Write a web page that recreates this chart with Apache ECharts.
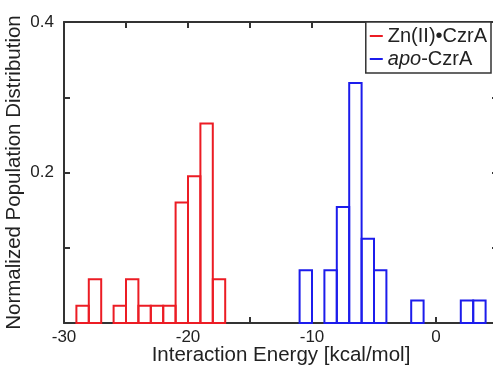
<!DOCTYPE html>
<html>
<head>
<meta charset="utf-8">
<script src="https://cdn.jsdelivr.net/npm/echarts@6/dist/echarts.min.js"></script>
<style>
  html, body { margin: 0; padding: 0; background: #fff; }
  #grafico { width: 493px; height: 366px; }
</style>
</head>
<body>
<div id="grafico"></div>
<script>
// histogram bins: left edge of each 1 kcal/mol bin and its normalized height
const zincBins = [-29, -28, -26, -25, -24, -23, -22, -21, -20, -19, -18];
const zincValues = [0.023, 0.058, 0.023, 0.058, 0.023, 0.023, 0.023, 0.16, 0.195, 0.265, 0.058];
const apoBins = [-11, -9, -8, -7, -6, -5, -2, 2, 3];
const apoValues = [0.07, 0.07, 0.154, 0.319, 0.112, 0.07, 0.03, 0.03, 0.03];
const binWidth = 1;
const xTickLabels = [-30, -20, -10, 0];
const yTickLabels = [0.2, 0.4];

const fonte = 'Liberation Sans, Arial, sans-serif';

function montarDados(bins, valores) {
    return bins.map((b, i) => [b, b + binWidth, valores[i]]);
}

function desenharBarra(params, api) {
    const p0 = api.coord([api.value(0), 0]);
    const p1 = api.coord([api.value(1), api.value(2)]);
    return {
        type: 'rect',
        shape: { x: p0[0], y: p1[1], width: p1[0] - p0[0], height: p0[1] - p1[1] },
        style: { fill: 'none', stroke: api.visual('color'), lineWidth: 2 }
    };
}

function desenharGrafico() {
    const el = document.getElementById('grafico');
    const chart = echarts.init(el);
    const eixo = { onZero: false, lineStyle: { color: '#333', width: 2 } };
    const tick = { show: true, inside: true, length: 6, lineStyle: { color: '#333', width: 2 } };
    const option = {
        animation: false,
        grid: { left: 64, right: -5, top: 22, bottom: 43, outerBoundsMode: 'none', containLabel: false },
        legend: {
            orient: 'vertical',
            right: 2,
            top: 22,
            data: ['Zn(II)•CzrA', 'apo-CzrA'],
            icon: 'rect',
            itemWidth: 13,
            itemHeight: 2,
            itemGap: 3,
            padding: [4, 4, 4, 4],
            borderColor: '#333',
            borderWidth: 1.5,
            backgroundColor: '#fff',
            formatter: n => n === 'apo-CzrA' ? '{i|apo}-CzrA' : n,
            textStyle: {
                fontFamily: fonte, fontSize: 20, color: '#222',
                rich: { i: { fontStyle: 'italic', fontFamily: fonte, fontSize: 20, color: '#222' } }
            }
        },
        xAxis: [{
            type: 'value', min: -30, max: 5, interval: 5,
            name: 'Interaction Energy [kcal/mol]', nameLocation: 'middle', nameGap: 22,
            nameMoveOverlap: false,
            nameTextStyle: { fontFamily: fonte, fontSize: 20.5, color: '#222' },
            axisLine: eixo, axisTick: tick, splitLine: { show: false },
            axisLabel: {
                fontFamily: fonte, fontSize: 17, color: '#222', margin: 6,
                formatter: v => xTickLabels.includes(v) ? String(v) : ''
            }
        }, {
            type: 'value', min: -30, max: 5, interval: 5, position: 'top',
            axisLine: eixo, axisTick: tick, axisLabel: { show: false }, splitLine: { show: false }
        }],
        yAxis: [{
            type: 'value', min: 0, max: 0.4, interval: 0.1,
            name: 'Normalized Population Distribution', nameLocation: 'middle', nameGap: 39,
            nameMoveOverlap: false,
            nameTextStyle: { fontFamily: fonte, fontSize: 20.5, color: '#222' },
            axisLine: eixo, axisTick: tick, splitLine: { show: false },
            axisLabel: {
                fontFamily: fonte, fontSize: 17, color: '#222', margin: 10,
                formatter: v => yTickLabels.some(t => Math.abs(t - v) < 1e-9) ? String(v) : ''
            }
        }, {
            type: 'value', min: 0, max: 0.4, interval: 0.1, position: 'right',
            axisLine: eixo, axisTick: tick, axisLabel: { show: false }, splitLine: { show: false }
        }],
        series: [{
            name: 'Zn(II)•CzrA',
            type: 'custom',
            renderItem: desenharBarra,
            itemStyle: { color: '#ec1c24' },
            encode: { x: [0, 1], y: 2 },
            data: montarDados(zincBins, zincValues)
        }, {
            name: 'apo-CzrA',
            type: 'custom',
            renderItem: desenharBarra,
            itemStyle: { color: '#1c1cec' },
            encode: { x: [0, 1], y: 2 },
            data: montarDados(apoBins, apoValues)
        }]
    };
    chart.setOption(option);
}

window.onload = () => {
    desenharGrafico();
};
</script>
</body>
</html>
